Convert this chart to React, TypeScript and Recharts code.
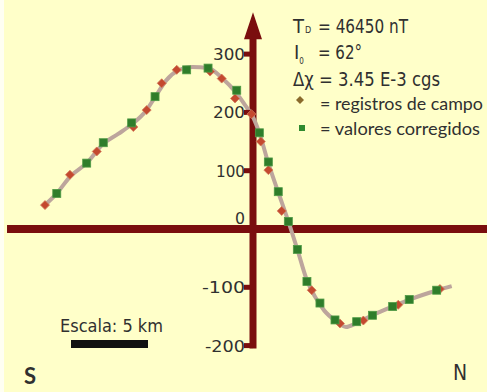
import React from 'react';
import { ComposedChart, Line, Scatter, XAxis, YAxis, ReferenceLine, ReferenceDot } from 'recharts';

// ---- data (distance in km, anomaly in nT) ----
const perfilKm = [-13.55, -12.66, -11.8, -10.73, -9.66, -8.7, -7.8, -6.9, -6.3, -5.6, -4.9, -3.9, -2.9, -2.0, -1.1, -0.5, 0, 0.41, 1.0, 1.63, 2.28, 2.86, 3.48, 4.0, 4.6, 5.3, 6.0, 6.7, 7.7, 9.0, 10.1, 11.9, 12.82];
const perfilNT = [38, 61, 90, 113, 146, 163, 180, 203, 227, 255, 271, 278, 276, 259, 234, 212, 192, 165, 112, 63, 13, -35, -88, -116, -140, -157, -168, -161, -148, -133, -121, -105, -98];

const campoKm = [-13.42, -11.81, -10.08, -7.72, -6.86, -5.89, -4.92, -2.77, -2.02, -1.16, -0.1, 0.5, 0.99, 1.85, 3.79, 5.61, 7.12, 9.37, 12.06];
const campoNT = [41, 93, 133, 175, 204, 250, 273, 270, 258, 224, 197, 150, 101, 31, -105, -162, -157, -130, -103];

const corrKm = [-12.66, -10.73, -9.66, -7.83, -6.32, -4.28, -2.9, -1.05, 0.41, 0.99, 1.63, 2.28, 2.86, 3.48, 4.32, 5.29, 6.69, 7.71, 9.01, 10.08, 11.85];
const corrNT = [61, 113, 148, 182, 227, 273, 276, 238, 165, 115, 64, 13, -35, -90, -127, -156, -159, -148, -133, -121, -105];

const tickValues = [300, 200, 100, 0, -100, -200];
const tickLabels = ['300', '200', '100', '0', '-100', '-200'];

const leyenda = ['= 46450 nT', '= 62°', 'Δχ = 3.45 E-3 cgs', '= registros de campo', '= valores corregidos'];

const perfil = perfilKm.map((km, i) => ({ km, val: perfilNT[i] }));
const campo = campoKm.map((km, i) => ({ km, val: campoNT[i] }));
const corregidos = corrKm.map((km, i) => ({ km, val: corrNT[i] }));

// ---- layout ----
const W = 487;
const H = 392;
const X_DOMAIN: [number, number] = [-16.323, 15.097];
const Y_DOMAIN: [number, number] = [-279.6, 392.8];
const AXIS = '#7a0e0e';
const BG = '#FFFFC9';
const NARROW = '"Liberation Sans Narrow", "DejaVu Sans Condensed", "Liberation Sans", sans-serif';
const HUMAN = 'Lato, "Open Sans", sans-serif';
const INK = '#303030';

function Diamond(p: any) {
  const { cx, cy } = p;
  if (cx == null || cy == null) return <g />;
  const s = 4.5;
  return <polygon points={`${cx},${cy - s} ${cx + s},${cy} ${cx},${cy + s} ${cx - s},${cy}`} fill="#c4492f" stroke="#d07a5a" strokeWidth={0.8} />;
}

function Square(p: any) {
  const { cx, cy } = p;
  if (cx == null || cy == null) return <g />;
  return <rect x={cx - 4} y={cy - 4} width={8} height={8} fill="#2f7d2a" stroke="#4f9a45" strokeWidth={0.8} />;
}

const labelLen: Record<string, number> = { '300': 32, '200': 32, '100': 29, '0': 10, '-100': 43, '-200': 40 };

export default function App() {
  return (
    <div style={{ position: 'fixed', left: 0, top: 0, width: W, height: H, background: BG, overflow: 'hidden' }}>
      <ComposedChart width={W} height={H} margin={{ top: 0, right: 0, bottom: 0, left: 0 }}>
        <XAxis type="number" dataKey="km" domain={X_DOMAIN} hide allowDataOverflow />
        <YAxis type="number" dataKey="val" domain={Y_DOMAIN} hide allowDataOverflow />
        <ReferenceLine segment={[{ x: -15.87, y: 0 }, { x: X_DOMAIN[1], y: 0 }]} stroke={AXIS} strokeWidth={8} ifOverflow="visible" />
        <ReferenceLine segment={[{ x: 0, y: -205 }, { x: 0, y: 330 }]} stroke={AXIS} strokeWidth={7} ifOverflow="visible" />
        <ReferenceDot
          x={0}
          y={372}
          ifOverflow="visible"
          shape={(p: any) => (
            <polygon points={`${p.cx},${p.cy} ${p.cx - 9},${p.cy + 27} ${p.cx + 9},${p.cy + 27}`} fill={AXIS} />
          )}
        />
        {tickValues.map((v, i) => (
          <ReferenceDot
            key={v}
            x={0}
            y={v}
            ifOverflow="visible"
            shape={(p: any) => (
              <g>
                {v !== 0 && <rect x={p.cx - 9} y={p.cy - 2.5} width={9} height={5} fill={AXIS} />}
                <text
                  x={p.cx - 8}
                  y={v === 0 ? p.cy - 5 : p.cy + 6}
                  textAnchor="end"
                  fontFamily={NARROW}
                  fontSize={16}
                  fill={INK}
                  textLength={labelLen[tickLabels[i]]}
                  lengthAdjust="spacingAndGlyphs"
                >
                  {tickLabels[i]}
                </text>
              </g>
            )}
          />
        ))}
        <Line data={perfil} dataKey="val" type="monotone" stroke="#bda59c" strokeWidth={4} dot={false} activeDot={false} isAnimationActive={false} />
        <Scatter data={campo} dataKey="val" shape={<Diamond />} activeShape={<Diamond />} isAnimationActive={false} />
        <Scatter data={corregidos} dataKey="val" shape={<Square />} activeShape={<Square />} isAnimationActive={false} />
      </ComposedChart>
      <svg width={W} height={H} style={{ position: 'absolute', left: 0, top: 0, pointerEvents: 'none' }}>
        <rect x={0} y={0} width={4} height={H} fill="#fffff2" />
        <g fill={INK} fontFamily={NARROW}>
          <text x={293} y={33} fontSize={20}>
            T<tspan fontSize={9} dx={1}>D</tspan>
          </text>
          <text x={318} y={33} fontSize={19} textLength={90} lengthAdjust="spacingAndGlyphs">{leyenda[0]}</text>
          <text x={294} y={59} fontSize={20}>
            I<tspan fontSize={8} dx={0} dy={5}>0</tspan>
          </text>
          <text x={318} y={59} fontSize={19} textLength={44} lengthAdjust="spacingAndGlyphs">{leyenda[1]}</text>
          <text x={293} y={86} fontSize={19} textLength={147} lengthAdjust="spacingAndGlyphs">{leyenda[2]}</text>
        </g>
        <polygon points="300,96 304,100 300,104 296,100" fill="#8a6a2c" />
        <rect x={299} y={125} width={6} height={6} fill="#2f8a2f" />
        <g fill={INK} fontFamily={HUMAN}>
          <text x={320} y={110} fontSize={18} textLength={163} lengthAdjust="spacingAndGlyphs">{leyenda[3]}</text>
          <text x={320} y={135} fontSize={18} textLength={160} lengthAdjust="spacingAndGlyphs">{leyenda[4]}</text>
        </g>
        <text x={60} y={332} fontSize={18} fontFamily={NARROW} fill={INK} textLength={103} lengthAdjust="spacingAndGlyphs">Escala: 5 km</text>
        <rect x={71} y={340} width={77} height={8} fill="#111" />
        <text x={24} y={384} fontSize={22} fontWeight="bold" fontFamily={HUMAN} fill={INK}>S</text>
        <text x={453} y={380} fontSize={21} fontFamily={NARROW} fill={INK}>N</text>
      </svg>
    </div>
  );
}
